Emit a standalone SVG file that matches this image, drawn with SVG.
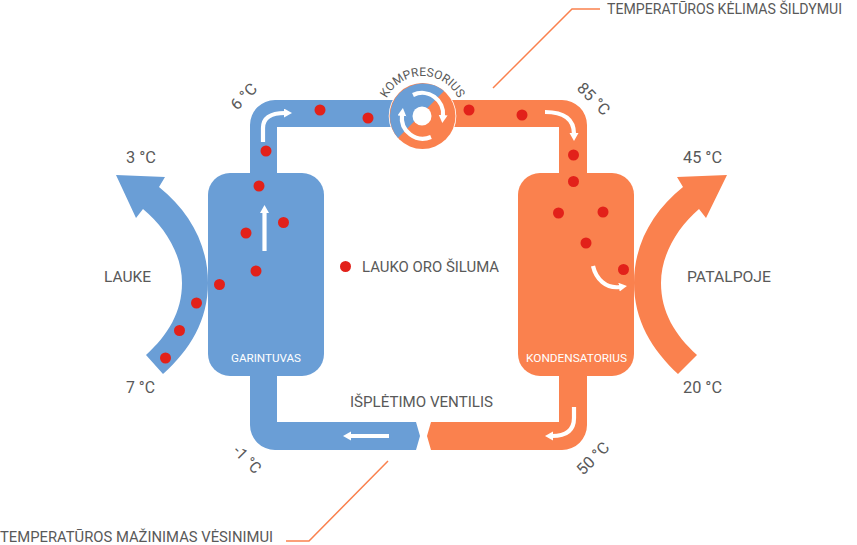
<svg xmlns="http://www.w3.org/2000/svg" width="857" height="545" viewBox="0 0 857 545">
  <style>
    text { font-family: "Roboto", "Liberation Sans", sans-serif; fill: #595959; font-size: 15px; }
    .temp { font-size: 16px; }
    .small { fill: #ffffff; font-size: 11.5px; }
    .comp { font-size: 12px; }
    .cold { fill: #6a9ed6; }
    .hot { fill: #fa814e; }
    .dot { fill: #e2211a; }
    .flow { fill: none; stroke: #ffffff; stroke-width: 4.2; marker-end: url(#head); }
    .leader { fill: none; stroke: #fa814e; stroke-width: 1.5; }
  </style>
  <defs>
    <marker id="head" markerUnits="userSpaceOnUse" markerWidth="10" markerHeight="10" refX="1" refY="4.5" orient="auto">
      <path d="M0 0L8 4.500L0 9Z" fill="#ffffff"/>
    </marker>
    <path id="compArc" d="M382.500 116A40 40 0 0 1 462.500 116"/>
  </defs>

  <!-- refrigerant pipes and leader lines -->
  <g id="connectors">
    <path class="cold" d="M250 180V125A25 25 0 0 1 275 100H395V127H277V180Z"/>
    <path class="cold" d="M250 370V425A25 25 0 0 0 275 450H416L420 436L416 422H277V370Z"/>
    <path class="hot" d="M450 100H562A25 25 0 0 1 587 125V180H559V127H450Z"/>
    <path class="hot" d="M559 370V422H431L427 436L431 450H562A25 25 0 0 0 587 425V370Z"/>
    <path class="leader" d="M493 88L572 9H600"/>
    <path class="leader" d="M388 461L309 541H286"/>
  </g>

  <!-- outdoor air stream -->
  <g id="outdoor-air">
    <path class="cold" d="M116 175L165 177L159 187C190 212 208 245 208 283C208 320 190 350 163 374L146 355C168 335 182 312 182 283C182 255 166 228 143 209L136 218Z"/>
  </g>

  <!-- indoor air stream -->
  <g id="indoor-air">
    <path class="hot" d="M727 175L677 177L683 187C652 212 634 245 634 283C634 320 652 350 678 374L697 355C675 335 661 312 661 283C661 255 677 228 699 209L706 218Z"/>
  </g>

  <g id="evaporator">
    <rect class="cold" x="208" y="173" width="116" height="203" rx="22"/>
    <text class="small" x="266" y="362" text-anchor="middle" textLength="70" lengthAdjust="spacingAndGlyphs">GARINTUVAS</text>
  </g>

  <g id="condenser">
    <rect class="hot" x="518" y="173" width="116" height="203" rx="22"/>
    <text class="small" x="576.500" y="362" text-anchor="middle" textLength="101" lengthAdjust="spacingAndGlyphs">KONDENSATORIUS</text>
  </g>

  <g id="compressor">
    <circle cx="422.500" cy="116" r="33.800" fill="#ffffff"/>
    <circle class="hot" cx="422.500" cy="116" r="33"/>
    <path class="cold" d="M444 91A33 33 0 0 0 398 138Z"/>
    <circle cx="422" cy="116" r="9.500" fill="#ffffff"/>
    <text class="comp"><textPath href="#compArc" startOffset="50%" text-anchor="middle">KOMPRESORIUS</textPath></text>
  </g>

  <!-- direction of flow -->
  <g id="flow-arrows">
    <path class="flow" d="M263 142V128C263 118 271 113 285 113"/>
    <path class="flow" d="M545 112C563 112 574 118 574 134"/>
    <path class="flow" d="M574 407V418C574 431 565 436 552 436"/>
    <path class="flow" d="M389 436H350"/>
    <path class="flow" d="M264.500 251V212"/>
    <path class="flow" d="M593 266C596 279 606 289 620 287"/>
    <path class="flow" d="M413 95A21 21 0 0 1 443 116"/>
    <path class="flow" d="M431 137A21 21 0 0 1 402 115"/>
  </g>

  <!-- refrigerant particles -->
  <g id="particles">
    <circle class="dot" cx="320" cy="110" r="5.500"/>
    <circle class="dot" cx="368" cy="118" r="5.500"/>
    <circle class="dot" cx="266" cy="151" r="5.500"/>
    <circle class="dot" cx="259" cy="186" r="5.500"/>
    <circle class="dot" cx="283.500" cy="222.500" r="5.500"/>
    <circle class="dot" cx="246" cy="233" r="5.500"/>
    <circle class="dot" cx="256" cy="271" r="5.500"/>
    <circle class="dot" cx="219.500" cy="284.500" r="5.500"/>
    <circle class="dot" cx="196.500" cy="303" r="5.500"/>
    <circle class="dot" cx="179.500" cy="330.500" r="5.500"/>
    <circle class="dot" cx="165.500" cy="358" r="5.500"/>
    <circle class="dot" cx="469" cy="110" r="5.500"/>
    <circle class="dot" cx="522" cy="115" r="5.500"/>
    <circle class="dot" cx="573.500" cy="155" r="5.500"/>
    <circle class="dot" cx="573.500" cy="181.500" r="5.500"/>
    <circle class="dot" cx="558.500" cy="213" r="5.500"/>
    <circle class="dot" cx="603" cy="212" r="5.500"/>
    <circle class="dot" cx="586" cy="243" r="5.500"/>
    <circle class="dot" cx="623.500" cy="269.500" r="5.500"/>
    <circle class="dot" cx="345.500" cy="266.500" r="5.500"/>
  </g>

  <g id="labels">
    <text x="362" y="272" textLength="137" lengthAdjust="spacingAndGlyphs">LAUKO ORO ŠILUMA</text>
    <text x="350" y="407" textLength="143" lengthAdjust="spacingAndGlyphs">IŠPLĖTIMO VENTILIS</text>
    <text x="104" y="282" textLength="47" lengthAdjust="spacingAndGlyphs">LAUKE</text>
    <text x="687" y="282" textLength="84" lengthAdjust="spacingAndGlyphs">PATALPOJE</text>
    <text class="temp" x="126" y="163" textLength="30" lengthAdjust="spacingAndGlyphs">3 °C</text>
    <text class="temp" x="126" y="393" textLength="29" lengthAdjust="spacingAndGlyphs">7 °C</text>
    <text class="temp" x="683" y="163" textLength="39" lengthAdjust="spacingAndGlyphs">45 °C</text>
    <text class="temp" x="683" y="393" textLength="39" lengthAdjust="spacingAndGlyphs">20 °C</text>
    <text class="temp" transform="translate(237 111) rotate(-45)" textLength="30" lengthAdjust="spacingAndGlyphs">6 °C</text>
    <text class="temp" transform="translate(576 89) rotate(45)" textLength="39" lengthAdjust="spacingAndGlyphs">85 °C</text>
    <text class="temp" transform="translate(232 452) rotate(45)" textLength="32" lengthAdjust="spacingAndGlyphs">-1 °C</text>
    <text class="temp" transform="translate(583 476) rotate(-45)" textLength="39" lengthAdjust="spacingAndGlyphs">50 °C</text>
    <text x="607" y="14" textLength="235" lengthAdjust="spacingAndGlyphs">TEMPERATŪROS KĖLIMAS ŠILDYMUI</text>
    <text style="font-size:14.5px" x="0" y="541.500" textLength="273" lengthAdjust="spacingAndGlyphs">TEMPERATŪROS MAŽINIMAS VĖSINIMUI</text>
  </g>
</svg>
